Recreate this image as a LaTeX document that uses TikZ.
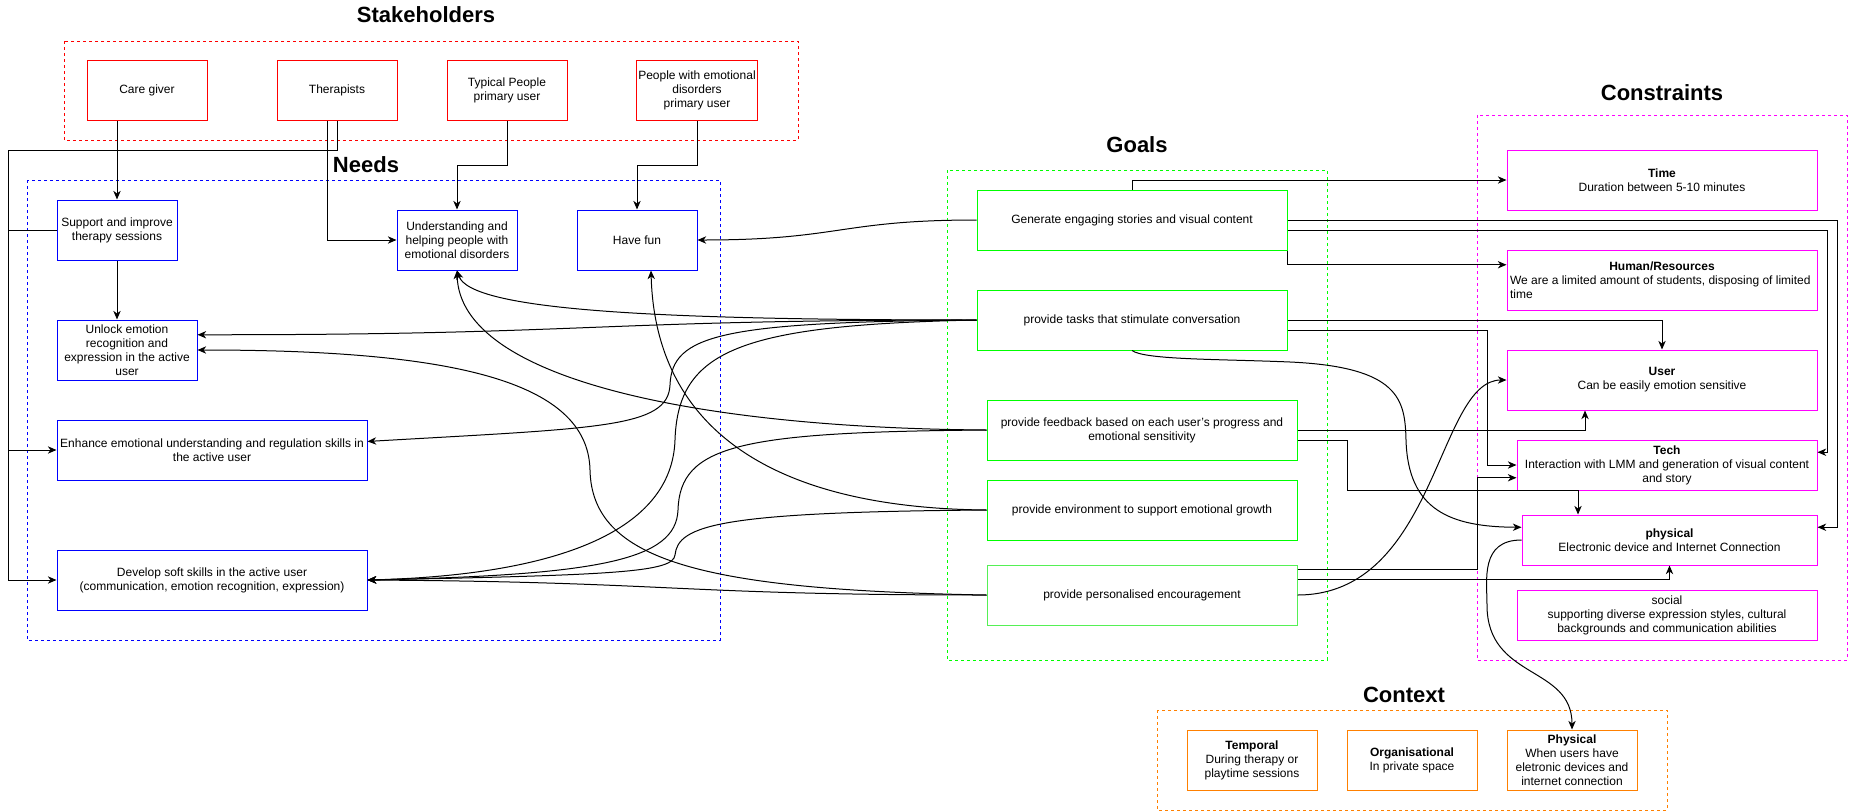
\documentclass[tikz,border=0pt]{standalone}
\usepackage{fontspec}
\setmainfont{Liberation Sans}
\usetikzlibrary{arrows.meta,calc}
\definecolor{cred}{HTML}{FF0000}
\definecolor{cblue}{HTML}{0000FF}
\definecolor{cgreen}{HTML}{00FF00}
\definecolor{cgreenl}{HTML}{55F055}
\definecolor{cmag}{HTML}{FF00FF}
\definecolor{corange}{HTML}{FF8000}
\begin{document}
\begin{tikzpicture}[x=0.75pt,y=-0.75pt,
  every node/.style={font=\fontsize{9}{10.5}\selectfont, align=center, inner sep=1pt},
  wh/.style 2 args={minimum width=#1*0.75pt, minimum height=#2*0.75pt},
  sbox/.style={draw=cred, line width=0.75pt},
  nbox/.style={draw=cblue, line width=0.75pt},
  gbox/.style={draw=cgreen, line width=0.75pt},
  cbox/.style={draw=cmag, line width=0.75pt},
  xbox/.style={draw=corange, line width=0.75pt},
  grp/.style={dash pattern=on 2.25pt off 2.25pt, line width=0.6pt},
  ttl/.style={font=\fontsize{16.5}{19}\selectfont\bfseries},
  conn/.style={line width=0.75pt, -{Stealth[length=6.5pt,width=5.5pt,inset=2pt]}},
]
\useasboundingbox (0,0) rectangle (1849,811);

% groups
\draw[grp,cred] (64,41) rectangle (798,140);
\draw[grp,cblue] (27,180) rectangle (720,640);
\draw[grp,cgreen] (947,170) rectangle (1327,660);
\draw[grp,cmag] (1477,115) rectangle (1847,660);
\draw[grp,corange] (1157,710) rectangle (1667,810);

% titles
\node[ttl] (tst) at (426,15) {Stakeholders};
\node[ttl] (tne) at (366,165) {Needs};
\node[ttl] (tgo) at (1137,145) {Goals};
\node[ttl] (tco) at (1662,93) {Constraints};
\node[ttl] (tcx) at (1404,695) {Context};

% stakeholders
\node[sbox,wh={120}{60}] (care) at (147,90) {Care giver};
\node[sbox,wh={120}{60}] (ther) at (337,90) {Therapists};
\node[sbox,wh={120}{60}] (typ) at (507,90) {Typical People\\primary user};
\node[sbox,wh={120}{60}] (ppl) at (697,90) {People with emotional\\disorders\\primary user};

% needs
\node[nbox,wh={120}{60}] (sup) at (117,230) {Support and improve\\therapy sessions};
\node[nbox,wh={120}{60}] (und) at (457,240) {Understanding and\\helping people with\\emotional disorders};
\node[nbox,wh={120}{60}] (fun) at (637,240) {Have fun};
\node[nbox,wh={140}{60}] (unl) at (127,350) {Unlock emotion\\recognition and\\expression in the active\\user};
\node[nbox,wh={310}{60}] (enh) at (212,450) {Enhance emotional understanding and regulation skills in\\the active user};
\node[nbox,wh={310}{60}] (dev) at (212,580) {Develop soft skills in the active user\\(communication, emotion recognition, expression)};

% goals
\node[gbox,wh={310}{60}] (gen) at (1132,220) {Generate engaging stories and visual content};
\node[gbox,wh={310}{60}] (tsk) at (1132,320) {provide tasks that stimulate conversation};
\node[gbox,wh={310}{60}] (fbk) at (1142,430) {provide feedback based on each user's progress and\\emotional sensitivity};
\node[gbox,wh={310}{60}] (env) at (1142,510) {provide environment to support emotional growth};
\node[gbox,draw=cgreenl,wh={310}{60}] (enc) at (1142,595) {provide personalised encouragement};

% constraints
\node[cbox,wh={310}{60}] (time) at (1662,180) {\textbf{Time}\\Duration between 5-10 minutes};
\node[cbox,wh={310}{60}] (hum) at (1662,280) {\textbf{Human/Resources}\\\makebox[228pt][l]{We are a limited amount of students, disposing of limited}\\\makebox[228pt][l]{time}};
\node[cbox,wh={310}{60}] (usr) at (1662,380) {\textbf{User}\\Can be easily emotion sensitive};
\node[cbox,wh={300}{50}] (tech) at (1667,465) {\textbf{Tech}\\Interaction with LMM and generation of visual content\\and story};
\node[cbox,wh={295}{50}] (phy) at (1669.5,540) {\textbf{physical}\\Electronic device and Internet Connection};
\node[cbox,wh={300}{50}] (soc) at (1667,615) {social\\supporting diverse expression styles, cultural\\backgrounds and communication abilities};

% context
\node[xbox,wh={130}{60}] (ctmp) at (1252,760) {\textbf{Temporal}\\During therapy or\\playtime sessions};
\node[xbox,wh={130}{60}] (corg) at (1412,760) {\textbf{Organisational}\\In private space};
\node[xbox,wh={130}{60}] (cphy) at (1572,760) {\textbf{Physical}\\When users have\\eletronic devices and\\internet connection};

% stakeholders -> needs
\coordinate (trk) at (8,150);
\draw[conn] (care.south -| sup.north) -- (sup.north);
\draw[conn] ($(ther.south)+(-10,0)$) |- (und.west);
\draw[conn] (ther.south) |- (trk) |- (dev.west);
\draw[conn] (sup.west) -- (sup.west -| trk) |- (enh.west);
\draw[conn] (sup.south) -- (sup.south |- unl.north);
\draw[conn] (typ.south) -- ++(0,45) -| (und.north);
\draw[conn] (ppl.south) -- ++(0,45) -| (fun.north);

% goals -> needs
\draw[conn] (gen.west) .. controls (840,220) and (840,240) .. (fun.east);
\draw[conn] (tsk.west) .. controls (650,320) and (470,310) .. (und.south);
\draw[conn] (tsk.west) .. controls (590,320) and (590,335) .. ($(unl.north east)!0.25!(unl.south east)$);
\draw[conn] (tsk.west) .. controls (720,322) and (672,335) .. (670,385) .. controls (668,428) and (600,428) .. ($(enh.north east)!0.36!(enh.south east)$);
\draw[conn] (tsk.west) .. controls (740,325) and (678,350) .. (675,440) .. controls (672,530) and (560,575) .. (dev.east);
\draw[conn] (fbk.west) .. controls (700,428) and (460,380) .. (und.south);
\draw[conn] (fbk.west) .. controls (740,432) and (680,445) .. (678,510) .. controls (676,560) and (600,575) .. (dev.east);
\draw[conn] (env.west) .. controls (760,508) and (655,420) .. ($(fun.south)+(14,0)$);
\draw[conn] (env.west) .. controls (720,512) and (678,525) .. (675,555) .. controls (673,572) and (620,575) .. (dev.east);
\draw[conn] (enc.west) .. controls (700,590) and (592,560) .. (590,470) .. controls (588,380) and (450,350) .. (unl.east);
\draw[conn] (enc.west) .. controls (677,595) and (677,582) .. (dev.east);

% goals -> constraints
\draw[conn] (gen.north) |- (time.west);
\draw[conn] (gen.south east) |- ($(hum.north west)!0.25!(hum.south west)$);
\draw[conn] ($(gen.north east)!0.667!(gen.south east)$) -- ++(540,0) |- ($(tech.north east)!0.25!(tech.south east)$);
\draw[conn] (gen.east) -- ++(550,0) |- ($(phy.north east)!0.25!(phy.south east)$);
\draw[conn] (tsk.east) -| (usr.north);
\draw[conn] ($(tsk.north east)!0.667!(tsk.south east)$) -- ++(200,0) |- (tech.west);
\draw[conn] (tsk.south) .. controls (1145,360) and (1220,359) .. (1290,362) .. controls (1400,367) and (1405,400) .. (1406,440) .. controls (1408,510) and (1450,527) .. ($(phy.north west)!0.25!(phy.south west)$);
\draw[conn] (fbk.east) -| ($(usr.south)+(-77,0)$);
\draw[conn] ($(fbk.north east)!0.667!(fbk.south east)$) -- ++(50,0) -- ++(0,50) -| ($(phy.north)+(-91.5,0)$);
\draw[conn] ($(enc.north east)!0.0833!(enc.south east)$) -- ++(180,0) |- ($(tech.north west)!0.75!(tech.south west)$);
\draw[conn] ($(enc.north east)!0.25!(enc.south east)$) -| (phy.south);
\draw[conn] (enc.east) .. controls (1437,595) and (1437,380) .. (usr.west);
\draw[conn] (phy.west) .. controls (1480,540) and (1487,580) .. (1487,605) .. controls (1487,680) and (1572,665) .. (cphy.north);
\end{tikzpicture}
\end{document}
